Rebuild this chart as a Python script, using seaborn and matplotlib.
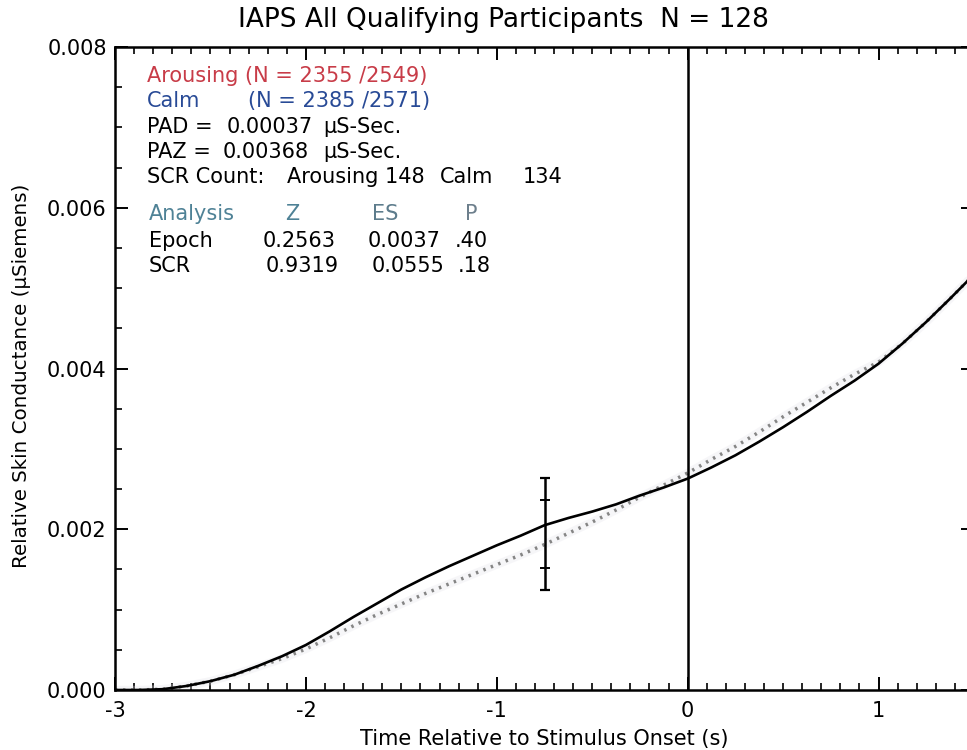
import numpy as np
import pandas as pd
import matplotlib
matplotlib.use("Agg")
import matplotlib.pyplot as plt
import matplotlib.ticker as mticker
import seaborn as sns

# ---- data ----
time_s = [-3.000, -2.875, -2.750, -2.625, -2.500, -2.375, -2.250, -2.125,
          -2.000, -1.875, -1.750, -1.625, -1.500, -1.375, -1.250, -1.125,
          -1.000, -0.875, -0.750, -0.625, -0.500, -0.375, -0.250, -0.125,
          0.000, 0.125, 0.250, 0.375, 0.500, 0.625, 0.750, 0.875,
          1.000, 1.125, 1.250, 1.375, 1.500]
arousing = [0.00000, 0.00000, 0.00001, 0.00005, 0.00011, 0.00019, 0.00030, 0.00042,
            0.00056, 0.00073, 0.00091, 0.00108, 0.00125, 0.00140, 0.00154, 0.00167,
            0.00180, 0.00192, 0.00205, 0.00214, 0.00222, 0.00231, 0.00242, 0.00252,
            0.00263, 0.00277, 0.00292, 0.00309, 0.00327, 0.00346, 0.00366, 0.00385,
            0.00406, 0.00431, 0.00458, 0.00487, 0.00517]
calm = [0.00000, 0.00000, 0.00001, 0.00005, 0.00011, 0.00019, 0.00029, 0.00039,
        0.00051, 0.00065, 0.00080, 0.00094, 0.00107, 0.00120, 0.00132, 0.00144,
        0.00156, 0.00168, 0.00181, 0.00195, 0.00209, 0.00224, 0.00240, 0.00255,
        0.00270, 0.00287, 0.00303, 0.00321, 0.00340, 0.00358, 0.00376, 0.00393,
        0.00408, 0.00431, 0.00458, 0.00487, 0.00517]

errbar_x = -0.75
errbar_center = 0.00194
errbar_outer = 0.00070
errbar_inner = 0.000425

title = "IAPS All Qualifying Participants  N = 128"
xlabel = "Time Relative to Stimulus Onset (s)"
ylabel = "Relative Skin Conductance (\u00b5Siemens)"

W, H = 967, 750

sns.set_style("ticks")
plt.rcParams["font.family"] = ["DejaVu Sans"]
plt.rcParams["axes.unicode_minus"] = False
plt.rcParams["text.color"] = "black"
plt.rcParams["axes.labelcolor"] = "black"
plt.rcParams["xtick.color"] = "black"
plt.rcParams["ytick.color"] = "black"

fig = plt.figure(figsize=(W / 100, H / 100), dpi=100)
ax_l, ax_r, ax_t, ax_b = 115, 974, 47, 690
ax = fig.add_axes([ax_l / W, 1 - ax_b / H, (ax_r - ax_l) / W, (ax_b - ax_t) / H])

df = pd.DataFrame({"time": time_s, "arousing": arousing, "calm": calm})

# calm (dotted grey) first so arousing sits on top
sns.lineplot(data=df, x="time", y="calm", ax=ax, color="#e4e2ea", lw=6.0,
             alpha=0.3, sort=True, estimator=None)
sns.lineplot(data=df, x="time", y="calm", ax=ax, color="#858585", lw=2.5,
             sort=True, estimator=None, linestyle=(0, (0.7, 1.6)),
             solid_capstyle="butt", dash_capstyle="butt")
sns.lineplot(data=df, x="time", y="arousing", ax=ax, color="black", lw=1.9,
             sort=True, estimator=None)

ax.axvline(0, color="black", lw=1.8)
ax.errorbar([errbar_x], [errbar_center], yerr=[errbar_outer], fmt="none",
            ecolor="black", elinewidth=1.8, capsize=3.5, capthick=1.6)
ax.errorbar([errbar_x], [errbar_center], yerr=[errbar_inner], fmt="none",
            ecolor="black", elinewidth=0, capsize=3.5, capthick=1.4)

ax.set_xlim(-3, 1.5)
ax.set_ylim(0, 0.008)
ax.xaxis.set_major_locator(mticker.MultipleLocator(1))
ax.xaxis.set_minor_locator(mticker.MultipleLocator(0.1))
ax.yaxis.set_major_locator(mticker.MultipleLocator(0.002))
ax.yaxis.set_minor_locator(mticker.MultipleLocator(0.0005))
ax.yaxis.set_major_formatter(mticker.FormatStrFormatter("%.3f"))
ax.xaxis.set_major_formatter(mticker.FormatStrFormatter("%d"))

ax.tick_params(which="both", direction="in", top=True, right=True,
               color="black", labelsize=15, labelcolor="black")
ax.tick_params(which="major", length=9.5, width=1.4)
ax.tick_params(which="minor", length=5, width=1.2)
ax.tick_params(axis="x", which="major", pad=8)
ax.tick_params(axis="y", which="major", pad=6)
for s in ax.spines.values():
    s.set_linewidth(1.8)
    s.set_color("black")
    s.set_visible(True)

ax.set_xlabel(xlabel, fontsize=15, color="black")
ax.set_ylabel(ylabel, fontsize=14.3, color="black")
ax.xaxis.set_label_coords((544 - ax_l) / (ax_r - ax_l), (ax_b - 729) / (ax_b - ax_t))
ax.yaxis.set_label_coords((31 - ax_l) / (ax_r - ax_l), (ax_b - 376) / (ax_b - ax_t))

fig.text(503.5 / W, 1 - 20 / H, title, fontsize=19, ha="center", va="center",
         color="black")

red = "#c83c48"
blue = "#284a96"
steel = "#4f8296"
fs = 15


def put(px, py, s, color="black"):
    fig.text(px / W, 1 - py / H, s, fontsize=fs, color=color,
             ha="left", va="baseline")


put(147, 82, "Arousing (N = 2355 /2549)", red)
put(147, 107, "Calm", blue)
put(248, 107, "(N = 2385 /2571)", blue)
put(147, 133, "PAD =")
put(227, 133, "0.00037")
put(323, 133, "\u00b5S-Sec.")
put(147, 158, "PAZ =")
put(223, 158, "0.00368")
put(323, 158, "\u00b5S-Sec.")
put(147, 183, "SCR Count:")
put(287, 183, "Arousing 148")
put(440, 183, "Calm")
put(523, 183, "134")
put(149, 220, "Analysis", steel)
put(285, 220, "Z", steel)
put(372, 220, "ES", "#5d7c8c")
put(465, 220, "P", "#6d7f8c")
put(149, 247, "Epoch")
put(263, 247, "0.2563")
put(368, 247, "0.0037")
put(455, 247, ".40")
put(149, 272, "SCR")
put(266, 272, "0.9319")
put(372, 272, "0.0555")
put(458, 272, ".18")

fig.savefig("out.png", dpi=100)
